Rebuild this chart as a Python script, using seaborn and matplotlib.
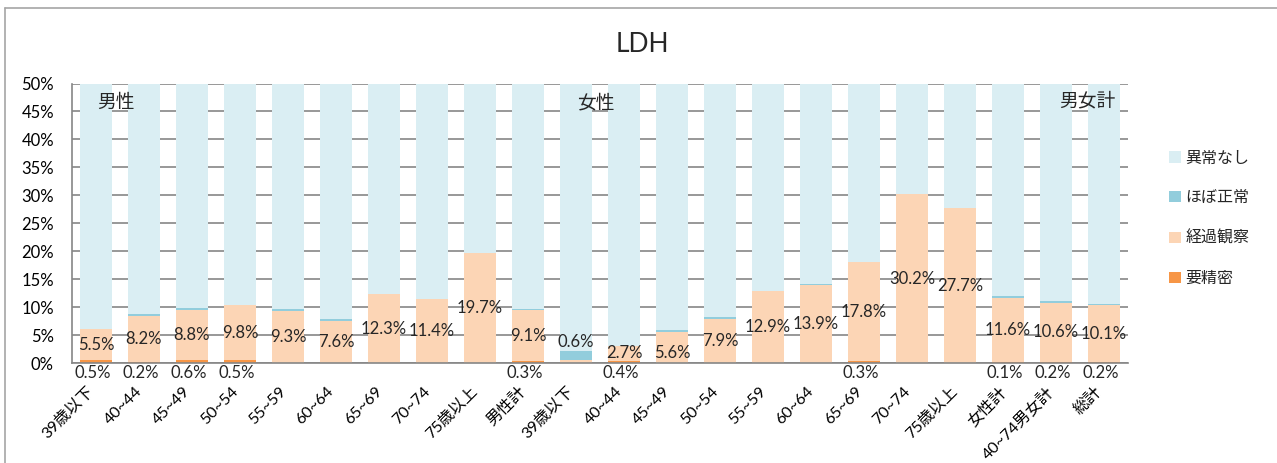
import matplotlib
matplotlib.use("Agg")
import matplotlib.pyplot as plt
from matplotlib.lines import Line2D
from matplotlib.ticker import MultipleLocator, FuncFormatter
from matplotlib.transforms import ScaledTranslation
import numpy as np
import pandas as pd
import seaborn as sns

# Age groups (male block, female block, combined totals)
categories = [
    "39歳以下", "40~44", "45~49", "50~54", "55~59", "60~64", "65~69", "70~74", "75歳以上", "男性計",
    "39歳以下 ", "40~44 ", "45~49 ", "50~54 ", "55~59 ", "60~64 ", "65~69 ", "70~74 ", "75歳以上 ", "女性計",
    "40~74男女計", "総計",
]

# Share of each judgement (%), stacked from the bottom
seimitsu = [0.5, 0.2, 0.6, 0.5, 0.0, 0.0, 0.0, 0.0, 0.0, 0.3,
            0.0, 0.4, 0.0, 0.0, 0.0, 0.0, 0.3, 0.0, 0.0, 0.1,
            0.2, 0.2]
keika = [5.5, 8.2, 8.8, 9.8, 9.3, 7.6, 12.3, 11.4, 19.7, 9.1,
         0.6, 2.7, 5.6, 7.9, 12.9, 13.9, 17.8, 30.2, 27.7, 11.6,
         10.6, 10.1]
hobo = [0.0, 0.4, 0.5, 0.0, 0.4, 0.3, 0.0, 0.0, 0.0, 0.3,
        1.6, 0.0, 0.3, 0.3, 0.0, 0.3, 0.0, 0.0, 0.0, 0.3,
        0.3, 0.3]
ijou_nashi = [94.0, 91.2, 90.1, 89.7, 90.3, 92.1, 87.7, 88.6, 80.3, 90.3,
              97.8, 96.9, 94.1, 91.8, 87.1, 85.8, 81.9, 69.8, 72.3, 88.0,
              88.9, 89.4]

series_names = ["要精密", "経過観察", "ほぼ正常", "異常なし"]
series_values = [seimitsu, keika, hobo, ijou_nashi]
series_colors = ["#F79646", "#FCD5B5", "#92CDDC", "#DAEEF3"]

group_labels = ["男性", "女性", "男女計"]

sns.set_theme(style="white")
plt.rcParams["font.family"] = ["Lato", "Noto Sans CJK JP", "DejaVu Sans"]

W, H = 1277, 463
fig = plt.figure(figsize=(W / 100, H / 100), dpi=100)
ax = fig.add_axes([72 / W, 1 - 363 / H, (1128 - 72) / W, (363 - 83.5) / H])

df = pd.DataFrame({"category": categories})
bottom = np.zeros(len(categories))
handles = {}
for name, vals, color in zip(series_names, series_values, series_colors):
    df["value"] = vals
    sns.barplot(data=df, x="category", y="value", order=categories, color=color,
                bottom=bottom.copy(), width=0.65, ax=ax, saturation=1,
                linewidth=0, errorbar=None)
    handles[name] = plt.Rectangle((0, 0), 1, 1, color=color, linewidth=0)
    bottom += np.array(vals)

ax.set_ylim(0, 50)
ax.set_xlim(-0.5, len(categories) - 0.5)
ax.yaxis.set_major_locator(MultipleLocator(5))
ax.yaxis.set_major_formatter(FuncFormatter(lambda v, _: f"{v:.0f}%"))
ax.set_axisbelow(True)
ax.yaxis.grid(True, color="#868686", linewidth=1.2)
ax.xaxis.grid(False)
ax.set_xlabel("")
ax.set_ylabel("")
for side in ["top", "right"]:
    ax.spines[side].set_visible(False)
for side in ["left", "bottom"]:
    ax.spines[side].set_color("#868686")
    ax.spines[side].set_linewidth(1.2)

ax.tick_params(axis="y", length=0, pad=13, labelsize=12, colors="#000000")
ax.tick_params(axis="x", length=0, pad=19, labelsize=11.5, colors="#000000")
ax.set_xticks(range(len(categories)))
ax.set_xticklabels([c.strip() for c in categories], rotation=45, ha="right",
                   rotation_mode="anchor", va="center")
shift = ScaledTranslation(-3 / 72, 0, fig.dpi_scale_trans)
for lbl in ax.get_xticklabels():
    lbl.set_transform(lbl.get_transform() + shift)

# Value labels for 経過観察, centered in the segment
label_nudge = {10: 14, 12: -4}
for i, (s, k) in enumerate(zip(seimitsu, keika)):
    ax.annotate(f"{k:.1f}%", (i, s + k / 2), xytext=(0, label_nudge.get(i, 0)),
                textcoords="offset points", ha="center", va="center", fontsize=12)

# Value labels for 要精密, placed just under the baseline
for i, s in enumerate(seimitsu):
    if s > 0:
        ax.annotate(f"{s:.1f}%", (i, 0), xytext=(-2, -7), textcoords="offset points",
                    ha="center", va="center", fontsize=12, annotation_clip=False)

# Block captions
ax.text(0.42, 46.6, group_labels[0], ha="center", va="center", fontsize=13.5)
ax.text(10.42, 46.6, group_labels[1], ha="center", va="center", fontsize=13.5)
ax.text(20.65, 47.0, group_labels[2], ha="center", va="center", fontsize=13.5)

fig.text(642 / W, 1 - 44 / H, "LDH", ha="center", va="center", fontsize=19)

legend_order = ["異常なし", "ほぼ正常", "経過観察", "要精密"]
fig.legend([handles[n] for n in legend_order], legend_order,
           loc="upper left", bbox_to_anchor=(1163 / W, 1 - 145 / H),
           frameon=False, fontsize=11.5, handlelength=0.7, handleheight=0.7,
           handletextpad=0.3, labelspacing=1.6, borderaxespad=0)

# Chart frame (top and left edges)
fig.add_artist(Line2D([5 / W, 1], [1 - 8 / H, 1 - 8 / H], color="#A6A6A6", linewidth=1.2))
fig.add_artist(Line2D([5 / W, 5 / W], [0, 1 - 8 / H], color="#A6A6A6", linewidth=1.2))

fig.savefig("out.png", dpi=100, facecolor="white")
